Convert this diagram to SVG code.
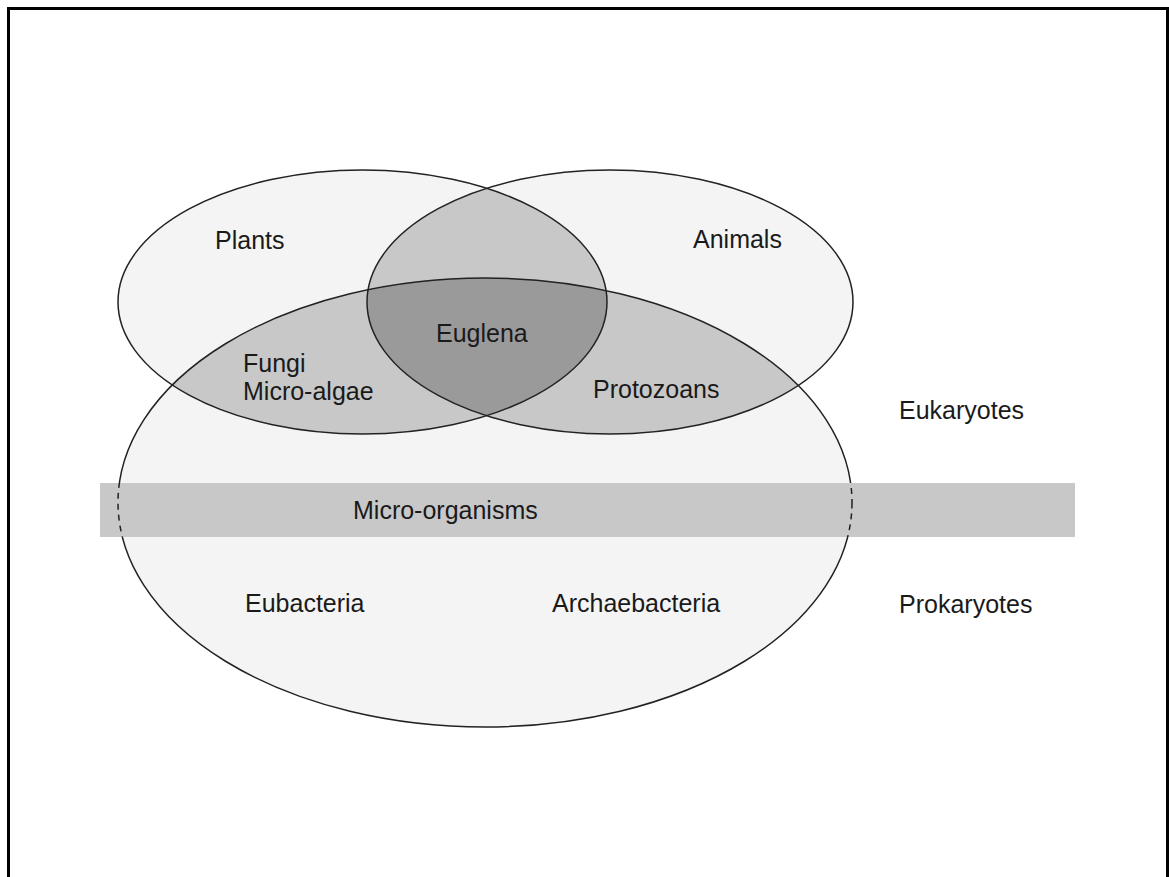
<svg xmlns="http://www.w3.org/2000/svg" width="1169" height="877" viewBox="0 0 1169 877">
<style>
.lbl{font-family:"Liberation Sans",Arial,sans-serif;font-size:25px;fill:#1a1a1a}
.light{fill:#f4f4f4}
.mid{fill:#c8c8c8}
.dark{fill:#9a9a9a}
.edge{fill:none;stroke:#222;stroke-width:1.5}
</style>
<defs>
<clipPath id="cpPlants"><ellipse cx="362.5" cy="302" rx="244.5" ry="132"/></clipPath>
<clipPath id="cpAnimals"><ellipse cx="610" cy="302" rx="243" ry="132"/></clipPath>
<clipPath id="cpBig"><ellipse cx="485" cy="502.5" rx="367" ry="224.5"/></clipPath>
<clipPath id="cpBand"><rect x="100" y="483" width="975" height="54"/></clipPath>
</defs>
<rect x="0" y="0" width="1169" height="877" fill="#fff"/>
<g id="frame" fill="none" stroke="#000" stroke-width="3">
<path d="M8.5,877 V8.5 H1167.5 V877"/>
</g>
<g id="fills">
<ellipse class="light" cx="485" cy="502.5" rx="367" ry="224.5"/>
<ellipse class="light" cx="362.5" cy="302" rx="244.5" ry="132"/>
<ellipse class="light" cx="610" cy="302" rx="243" ry="132"/>
<ellipse class="mid" cx="362.5" cy="302" rx="244.5" ry="132" clip-path="url(#cpAnimals)"/>
<ellipse class="mid" cx="362.5" cy="302" rx="244.5" ry="132" clip-path="url(#cpBig)"/>
<ellipse class="mid" cx="610" cy="302" rx="243" ry="132" clip-path="url(#cpBig)"/>
<g clip-path="url(#cpAnimals)"><ellipse class="dark" cx="362.5" cy="302" rx="244.5" ry="132" clip-path="url(#cpBig)"/></g>
</g>
<g id="plants"><ellipse class="edge" cx="362.5" cy="302" rx="244.5" ry="132"/></g>
<g id="animals"><ellipse class="edge" cx="610" cy="302" rx="243" ry="132"/></g>
<g id="microbes"><ellipse class="edge" cx="485" cy="502.5" rx="367" ry="224.5"/></g>
<g id="band">
<rect x="100" y="483" width="975" height="54" fill="#c8c8c8"/>
<ellipse cx="485" cy="502.5" rx="367" ry="224.5" fill="none" stroke="#222" stroke-width="1.5" stroke-dasharray="6,5" clip-path="url(#cpBand)"/>
<text class="lbl" x="353" y="519">Micro-organisms</text>
</g>
<g id="connectors"></g>
<g id="labels">
<text class="lbl" x="215" y="249">Plants</text>
<text class="lbl" x="693" y="248">Animals</text>
<text class="lbl" x="436" y="342">Euglena</text>
<text class="lbl" x="243" y="372">Fungi</text>
<text class="lbl" x="243" y="400">Micro-algae</text>
<text class="lbl" x="593" y="398">Protozoans</text>
<text class="lbl" x="899" y="419">Eukaryotes</text>
<text class="lbl" x="245" y="612">Eubacteria</text>
<text class="lbl" x="552" y="612">Archaebacteria</text>
<text class="lbl" x="899" y="613">Prokaryotes</text>
</g>
</svg>
